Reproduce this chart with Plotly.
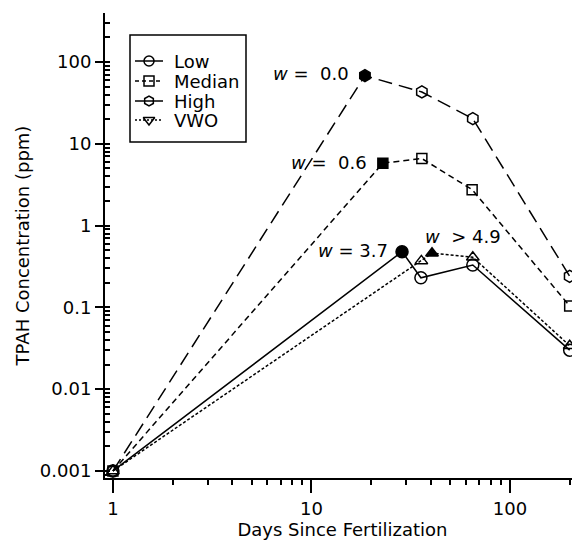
import math
import plotly.graph_objects as go

# ---- data ----
low_days = [1, 28.6, 35.6, 65, 200]
low_ppm = [0.001, 0.48, 0.23, 0.33, 0.030]
low_filled = 1

median_days = [1, 22.9, 36, 64.5, 200]
median_ppm = [0.001, 5.8, 6.6, 2.75, 0.104]
median_filled = 1

high_days = [1, 18.6, 36, 65, 200]
high_ppm = [0.001, 68, 43, 20.3, 0.24]
high_filled = 1

vwo_days = [1, 35.8, 40.5, 65, 200]
vwo_ppm = [0.001, 0.37, 0.46, 0.41, 0.034]
vwo_filled = 2

legend_names = ["Low", "Median", "High", "VWO"]

w_labels = {"high": "<i>w</i> =  0.0", "median": "<i>w</i> =  0.6",
            "low": "<i>w</i> = 3.7", "vwo": "<i>w</i>  > 4.9"}

y_tickvals = [0.001, 0.01, 0.1, 1, 10, 100]
y_ticktext = ["0.001", "0.01", "0.1", "1", "10", "100"]
x_tickvals = [1, 10, 100]
x_ticktext = ["1", "10", "100"]

FONT = "DejaVu Sans, Verdana, sans-serif"
FS = 18

fig = go.Figure()


def symbols(n, open_sym, filled_sym, filled_idx):
    s = [open_sym] * n
    s[filled_idx] = filled_sym
    return s


series = [
    (low_days, low_ppm, low_filled, "circle", "solid", 12, "circle-open", "solid"),
    (median_days, median_ppm, median_filled, "square", "6px,4px", 10, "square-open", "4px,3px"),
    (high_days, high_ppm, high_filled, "hexagon", "14px,7px", 12, "hexagon-open", "solid"),
    (vwo_days, vwo_ppm, vwo_filled, "triangle-up", "3px,2px", 11, "triangle-down-open", "2px,2px"),
]

for xs, ys, fi, sym, dash, size, legsym, legdash in series:
    fig.add_trace(go.Scatter(
        x=xs, y=ys, mode="lines+markers", showlegend=False, hoverinfo="x+y",
        line=dict(color="black", width=1.5, dash=dash),
        marker=dict(symbol=symbols(len(xs), sym + "-open", sym, fi),
                    size=size, color="black", line=dict(color="black", width=1.5)),
        cliponaxis=False,
    ))

# ---- legend drawn on an overlay axis measured in plot pixels ----
LEG_BOX = (130, 35, 246, 142)
LEG_ROWS = [61, 81, 101, 120]
LEG_LINE = (135, 163)
LEG_MARK = 149
LEG_TEXT = 172

for (xs, ys, fi, sym, dash, size, legsym, legdash), row, name in zip(series, LEG_ROWS, legend_names):
    fig.add_trace(go.Scatter(
        x=list(LEG_LINE), y=[row, row], xaxis="x2", yaxis="y2", mode="lines",
        showlegend=False, hoverinfo="skip", cliponaxis=False,
        line=dict(color="black", width=1.5, dash=legdash),
    ))
    fig.add_trace(go.Scatter(
        x=[LEG_MARK], y=[row], xaxis="x2", yaxis="y2", mode="markers",
        showlegend=False, hoverinfo="skip", cliponaxis=False,
        marker=dict(symbol=legsym, size=10, color="black", line=dict(color="black", width=1.5)),
    ))

ann_font = dict(family=FONT, size=FS, color="black")
annotations = [
    dict(x=high_days[high_filled], y=high_ppm[high_filled], text=w_labels["high"],
         xanchor="right", yanchor="middle", xshift=-14, yshift=2),
    dict(x=median_days[median_filled], y=median_ppm[median_filled], text=w_labels["median"],
         xanchor="right", yanchor="middle", xshift=-14, yshift=1),
    dict(x=low_days[low_filled], y=low_ppm[low_filled], text=w_labels["low"],
         xanchor="right", yanchor="middle", xshift=-12, yshift=1),
    dict(x=vwo_days[vwo_filled], y=vwo_ppm[vwo_filled], text=w_labels["vwo"],
         xanchor="left", yanchor="bottom", xshift=-9, yshift=4),
]
for a in annotations:
    a.update(xref="x", yref="y", showarrow=False, font=ann_font)
    a["x"] = math.log10(a["x"])
    a["y"] = math.log10(a["y"])

for row, name in zip(LEG_ROWS, legend_names):
    annotations.append(dict(x=LEG_TEXT, y=row, xref="x2", yref="y2", text=name,
                            showarrow=False, xanchor="left", yanchor="middle",
                            font=ann_font))

shapes = [dict(type="rect", xref="x2", yref="y2",
               x0=LEG_BOX[0], y0=LEG_BOX[1], x1=LEG_BOX[2], y1=LEG_BOX[3],
               line=dict(color="black", width=1.5), fillcolor="rgba(0,0,0,0)",
               layer="above")]

# page body adds an 8px offset, so the figure is drawn 8px smaller/left/up
fig.update_layout(
    width=572, height=536,
    margin=dict(l=97, r=0, t=5, b=66, autoexpand=False),
    paper_bgcolor="white", plot_bgcolor="white",
    font=dict(family=FONT, size=FS, color="black"),
    annotations=annotations,
    shapes=shapes,
    showlegend=False,
    xaxis=dict(
        type="log", range=[-0.040, 2.353], automargin=False,
        tickvals=x_tickvals, ticktext=x_ticktext,
        ticks="outside", ticklen=13, tickwidth=2, tickcolor="black",
        showline=True, linewidth=2, linecolor="black",
        showgrid=False, zeroline=False,
        minor=dict(ticks="outside", ticklen=5, tickwidth=2, tickcolor="black",
                   dtick="D1", showgrid=False),
        title=dict(text="Days Since Fertilization", font=dict(family=FONT, size=FS), standoff=2),
        tickfont=dict(family=FONT, size=FS),
    ),
    yaxis=dict(
        type="log", range=[-3.086, 2.599], automargin=False,
        tickvals=y_tickvals, ticktext=y_ticktext,
        ticks="outside", ticklen=8, tickwidth=2, tickcolor="black",
        showline=True, linewidth=2, linecolor="black",
        showgrid=False, zeroline=False,
        minor=dict(ticks="inside", ticklen=5, tickwidth=1.5, tickcolor="black",
                   dtick="D1", showgrid=False),
        title=dict(text="TPAH Concentration (ppm)", font=dict(family=FONT, size=FS), standoff=6),
        tickfont=dict(family=FONT, size=FS),
    ),
    xaxis2=dict(overlaying="x", anchor="y2", range=[105, 580], visible=False,
                fixedrange=True, showgrid=False, zeroline=False),
    yaxis2=dict(overlaying="y", anchor="x2", range=[478, 13], visible=False,
                fixedrange=True, showgrid=False, zeroline=False),
)

fig.write_html("out.html")
